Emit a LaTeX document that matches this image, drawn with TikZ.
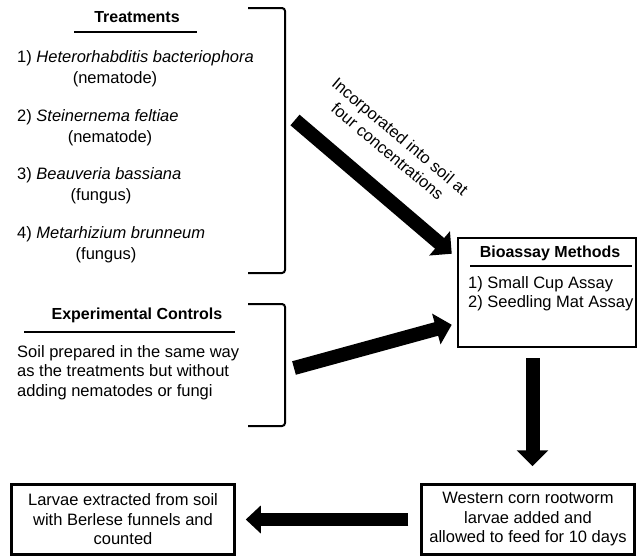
\documentclass[tikz,border=0pt]{standalone}
\usepackage{fontspec}
\setmainfont{Liberation Sans}
\usetikzlibrary{arrows.meta}
\begin{document}
\begin{tikzpicture}[x=1pt,y=-1pt,
  txt/.style={inner sep=0pt, font=\fontsize{16.5}{19.5}\selectfont},
  ttl/.style={inner sep=0pt, font=\fontsize{16}{19.5}\selectfont\bfseries},
  boxnode/.style={draw, line width=2.5pt, inner sep=0pt, align=center,
    font=\fontsize{16.5}{19.5}\selectfont},
  fat/.style={line width=14pt, -{Triangle[length=16pt,width=31pt]}},
  brk/.style={line width=2pt, rounded corners=3pt},
  uline/.style={line width=2pt}]
\useasboundingbox (0,0) rectangle (638,558);
% Treatments
\node[ttl] (ttr) at (137,17) {Treatments};
\draw[uline] (74,32) -- (197,32);
\node[txt, anchor=west] (t1) at (17,58) {1) \textit{Heterorhabditis bacteriophora}};
\node[txt] (t1b) at (115,79) {(nematode)};
\node[txt, anchor=west] (t2) at (17,117) {2) \textit{Steinernema feltiae}};
\node[txt] (t2b) at (110,138) {(nematode)};
\node[txt, anchor=west] (t3) at (17,175) {3) \textit{Beauveria bassiana}};
\node[txt] (t3b) at (101,196) {(fungus)};
\node[txt, anchor=west] (t4) at (17,234) {4) \textit{Metarhizium brunneum}};
\node[txt] (t4b) at (106,255) {(fungus)};
\draw[brk] (248,8) -- (285,8) -- (285,273) -- (248,273);
% Controls
\node[ttl] (ctl) at (137,315) {Experimental Controls};
\draw[uline] (24,332) -- (235,332);
\node[txt, anchor=north west, align=left] (ctt) at (17,345) {Soil prepared in the same way\\as the treatments but without\\adding nematodes or fungi};
\draw[brk] (248,304) -- (285,304) -- (285,426) -- (248,426);
% Bioassay
\node[boxnode, minimum width=178pt, minimum height=109pt] (bio) at (547,292.5) {};
\node[ttl] (bt) at (550,253) {Bioassay Methods};
\draw[uline] (470,265.5) -- (632,265.5);
\node[txt, anchor=north west, align=left] (bl) at (468,276) {1) Small Cup Assay\\2) Seedling Mat Assay};
% bottom boxes
\node[boxnode, minimum width=213pt, minimum height=70pt] (wcr) at (528,519.5)
  {Western corn rootworm\\larvae added and\\allowed to feed for 10 days};
\node[boxnode, minimum width=223pt, minimum height=70pt] (lar) at (123,519.5)
  {Larvae extracted from soil\\with Berlese funnels and\\counted};
% rotated label
\node[txt, rotate=-40, align=center] (inc) at (394,144) {Incorporated into soil at\\four concentrations};
% arrows
\coordinate (a1) at (295,120);
\coordinate (a2) at (294,368);
\draw[fat] (a1) -- ([shift={(-5,17)}]bio.north west);
\draw[fat] (a2) -- ([shift={(-5,88)}]bio.north west);
\draw[fat] ([shift={(-14.5,10)}]bio.south) -- ([shift={(4.5,-17)}]wcr.north);
\draw[line width=13pt, -{Triangle[length=15pt,width=27pt]}] ([xshift=-12pt]wcr.west) -- ([xshift=10pt]lar.east);
\end{tikzpicture}
\end{document}
